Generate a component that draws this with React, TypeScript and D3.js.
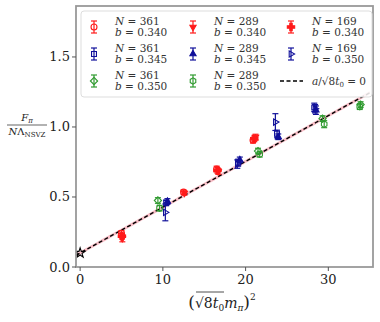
import React from "react";
import * as d3 from "d3";

// [x, y, err] per series
const redCircle = [[5.0, 0.24, 0.02], [12.5, 0.535, 0.015], [16.5, 0.70, 0.02], [20.9, 0.905, 0.02]];
const redTriDown = [[5.1, 0.205, 0.025], [12.6, 0.528, 0.015], [16.7, 0.682, 0.02], [21.2, 0.928, 0.02]];
const redPlus = [[5.05, 0.22, 0.02], [16.6, 0.69, 0.02], [21.05, 0.915, 0.02]];
const blueSquare = [[10.4, 0.458, 0.02], [19.1, 0.745, 0.025], [23.8, 0.952, 0.025], [28.3, 1.14, 0.03]];
const blueTriUp = [[10.55, 0.468, 0.02], [19.3, 0.765, 0.02], [23.95, 0.93, 0.02], [28.5, 1.12, 0.03]];
const blueTriRight = [[10.3, 0.39, 0.06], [19.0, 0.735, 0.03], [23.6, 1.035, 0.06], [28.4, 1.13, 0.03]];
const greenDiamond = [[9.4, 0.475, 0.02], [21.5, 0.828, 0.02], [29.3, 1.06, 0.02], [33.9, 1.16, 0.02]];
const greenHex = [[9.6, 0.42, 0.02], [21.7, 0.805, 0.02], [29.5, 1.02, 0.025], [33.8, 1.145, 0.02]];

const fitIntercept = 0.1;
const fitSlope = 0.0327;
const fitBand = 0.012;

const xTicks = [0, 10, 20, 30];
const yTicks = [0.0, 0.5, 1.0, 1.5];

const RED = "#ff1a1a";
const BLUE = "#10109a";
const GREEN = "#2f9a2f";

const series = [
  { N: "361", b: "0.340", color: RED, marker: "circle", fill: false, data: redCircle },
  { N: "289", b: "0.340", color: RED, marker: "tridown", fill: true, data: redTriDown },
  { N: "169", b: "0.340", color: RED, marker: "plus", fill: true, data: redPlus },
  { N: "361", b: "0.345", color: BLUE, marker: "square", fill: false, data: blueSquare },
  { N: "289", b: "0.345", color: BLUE, marker: "triup", fill: true, data: blueTriUp },
  { N: "169", b: "0.350", color: BLUE, marker: "triright", fill: false, data: blueTriRight },
  { N: "361", b: "0.350", color: GREEN, marker: "diamond", fill: false, data: greenDiamond },
  { N: "289", b: "0.350", color: GREEN, marker: "hex", fill: false, data: greenHex },
];

const poly = (n: number, r: number, rot: number) =>
  "M" + d3.range(n).map(i => {
    const a = rot + (i * 2 * Math.PI) / n;
    return [r * Math.cos(a), r * Math.sin(a)].join(",");
  }).join("L") + "Z";

function markerPath(m: string) {
  switch (m) {
    case "circle": return d3.symbol(d3.symbolCircle, 28)()!;
    case "square": return d3.symbol(d3.symbolSquare, 24)()!;
    case "plus": return d3.symbol(d3.symbolCross, 30)()!;
    case "diamond": return poly(4, 3.6, 0);
    case "hex": return poly(6, 3.2, Math.PI / 6);
    case "triup": return poly(3, 3.6, -Math.PI / 2);
    case "tridown": return poly(3, 3.6, Math.PI / 2);
    case "triright": return poly(3, 3.6, 0);
  }
  return "";
}

const FONT = "DejaVu Serif";

export default function App() {
  const W = 380, H = 322;
  const L = 76, R = 373, T = 6, B = 267;
  const x = d3.scaleLinear().domain([-0.5, 35.4]).range([L, R]);
  const y = d3.scaleLinear().domain([0, 1.864]).range([B, T]);

  const xs = d3.range(-0.5, 35.45, 0.5);
  const band = d3.area<number>()
    .x(d => x(d))
    .y0(d => y(fitIntercept + fitSlope * d - fitBand))
    .y1(d => y(fitIntercept + fitSlope * d + fitBand));
  const fitLine = d3.line<number>().x(d => x(d)).y(d => y(fitIntercept + fitSlope * d));

  const legendCols = [94, 193, 291];
  const legendRows = [27, 54, 81];

  return (
    <svg width={W} height={H} style={{ position: "absolute", left: 0, top: 0, background: "#fff" }}>
      <defs>
        <clipPath id="plotclip"><rect x={L} y={T} width={R - L} height={B - T} /></clipPath>
      </defs>
      <g clipPath="url(#plotclip)">
        <path d={band(xs)!} fill="#f7a8b4" opacity={0.75} />
        <path d={fitLine(xs)!} fill="none" stroke="#000" strokeWidth={1.4} strokeDasharray="4,2.5" />
        <path d={d3.symbol(d3.symbolStar, 30)()!} transform={`translate(${x(0)},${y(fitIntercept)})`}
          fill="none" stroke="#000" strokeWidth={1.1} />
        {series.map((s, si) => (
          <g key={si}>
            {s.data.map((p, i) => {
              const cx = x(p[0]), cy = y(p[1]);
              const y1 = y(p[1] + p[2]), y2 = y(p[1] - p[2]);
              return (
                <g key={i}>
                  <line x1={cx} x2={cx} y1={y1} y2={y2} stroke={s.color} strokeWidth={1.2} />
                  <line x1={cx - 3} x2={cx + 3} y1={y1} y2={y1} stroke={s.color} strokeWidth={1.2} />
                  <line x1={cx - 3} x2={cx + 3} y1={y2} y2={y2} stroke={s.color} strokeWidth={1.2} />
                  <path d={markerPath(s.marker)} transform={`translate(${cx},${cy})`}
                    fill={s.fill ? s.color : "none"} stroke={s.color} strokeWidth={1.1} />
                </g>
              );
            })}
          </g>
        ))}
      </g>

      {/* frame */}
      <rect x={L} y={T} width={R - L} height={B - T} fill="none" stroke="#999" strokeWidth={1.8} />

      {/* x axis */}
      {xTicks.map(t => (
        <g key={t}>
          <line x1={x(t)} x2={x(t)} y1={B} y2={B + 4} stroke="#555" strokeWidth={1} />
          <text x={x(t)} y={B + 17} textAnchor="middle" fontFamily={FONT} fontSize={13} fill="#222">{t}</text>
        </g>
      ))}
      {/* y axis */}
      {yTicks.map(t => (
        <g key={t}>
          <line x1={L - 4} x2={L} y1={y(t)} y2={y(t)} stroke="#555" strokeWidth={1} />
          <text x={L - 6} y={y(t) + 4.5} textAnchor="end" fontFamily={FONT} fontSize={13} fill="#222">{t.toFixed(1)}</text>
        </g>
      ))}

      {/* y label */}
      <g fontFamily={FONT} fill="#222">
        <text x={27} y={121} textAnchor="middle" fontSize={10}>
          <tspan fontStyle="italic">F</tspan><tspan fontSize={7} dy={2} fontStyle="italic">π</tspan>
        </text>
        <line x1={7} x2={47} y1={125} y2={125} stroke="#222" strokeWidth={0.7} />
        <text x={27} y={135} textAnchor="middle" fontSize={10}>
          <tspan fontStyle="italic">N</tspan><tspan>Λ</tspan><tspan fontSize={7} dy={2}>NSVZ</tspan>
        </text>
      </g>

      {/* x label */}
      <g fontFamily={FONT} fill="#222">
        <text x={222} y={308} textAnchor="middle" fontSize={14}>
          <tspan fontSize={17}>(</tspan>
          <tspan>√</tspan>
          <tspan>8</tspan><tspan fontStyle="italic">t</tspan><tspan fontSize={9} dy={3}>0</tspan>
          <tspan dy={-3} fontStyle="italic">m</tspan><tspan fontSize={9} dy={3} fontStyle="italic">π</tspan>
          <tspan fontSize={17} dy={-3}>)</tspan><tspan fontSize={9} dy={-8}>2</tspan>
        </text>
        <line x1={196} x2={224} y1={292} y2={292} stroke="#222" strokeWidth={0.8} />
      </g>

      {/* legend */}
      <rect x={81} y={11} width={291} height={86} rx={3} fill="#fff" fillOpacity={0.85} stroke="#ddd" strokeWidth={1} />
      {series.map((s, i) => {
        const cx = legendCols[i % 3], cy = legendRows[Math.floor(i / 3)];
        return (
          <g key={i}>
            <line x1={cx} x2={cx} y1={cy - 6} y2={cy + 6} stroke={s.color} strokeWidth={1.2} />
            <line x1={cx - 3} x2={cx + 3} y1={cy - 6} y2={cy - 6} stroke={s.color} strokeWidth={1.2} />
            <line x1={cx - 3} x2={cx + 3} y1={cy + 6} y2={cy + 6} stroke={s.color} strokeWidth={1.2} />
            <path d={markerPath(s.marker)} transform={`translate(${cx},${cy})`}
              fill={s.fill ? s.color : "none"} stroke={s.color} strokeWidth={1.1} />
            <text x={cx + 21} y={cy - 2} fontFamily={FONT} fontSize={10.5} fill="#333">
              <tspan fontStyle="italic">N</tspan> = {s.N}
            </text>
            <text x={cx + 21} y={cy + 9} fontFamily={FONT} fontSize={10.5} fill="#333">
              <tspan fontStyle="italic">b</tspan> = {s.b}
            </text>
          </g>
        );
      })}
      <line x1={280} x2={303} y1={legendRows[2]} y2={legendRows[2]} stroke="#000" strokeWidth={1.4} strokeDasharray="4,2.5" />
      <text x={312} y={legendRows[2] + 4} fontFamily={FONT} fontSize={10.5} fill="#333">
        <tspan fontStyle="italic">a</tspan>/√8<tspan fontStyle="italic">t</tspan><tspan fontSize={7} dy={2}>0</tspan><tspan dy={-2}> = 0</tspan>
      </text>
    </svg>
  );
}
